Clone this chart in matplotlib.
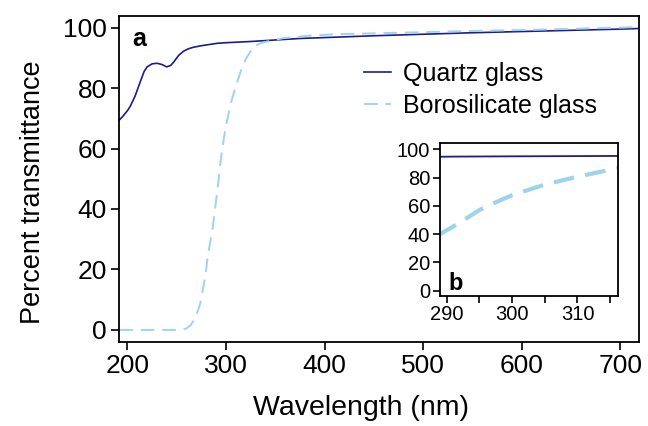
import matplotlib
matplotlib.use("Agg")
import matplotlib.pyplot as plt

plt.rcParams['font.family'] = ['Liberation Sans', 'DejaVu Sans']

# Quartz glass transmittance
quartz_wl = [192, 195, 200, 203, 208, 213, 217, 220, 225, 230, 235, 240, 244, 247, 252, 257,
             262, 267, 275, 285, 291, 300, 325, 350, 375, 400, 425, 450, 500, 550, 600, 650, 700, 719]
quartz_t = [69.5, 70.5, 72.5, 74.0, 77.5, 82.0, 85.5, 87.0, 88.0, 88.2, 87.8, 87.0, 87.5, 88.6, 90.8, 92.2,
            93.0, 93.5, 94.0, 94.5, 94.8, 95.0, 95.4, 95.9, 96.4, 96.7, 97.0, 97.3, 97.8, 98.3, 98.7, 99.1, 99.5, 99.7]

# Borosilicate glass transmittance
boro_wl = [192, 230, 255, 260, 264, 267, 270, 274, 279, 282, 286, 289, 292, 295, 298, 300, 305,
           310, 316, 320, 328, 335, 342, 358, 380, 409, 450, 500, 550, 600, 650, 700, 719]
boro_t = [0, 0, 0, 0.5, 1.5, 3.0, 4.8, 8.8, 17.6, 25.4, 32.5, 40.0, 48.0, 57.0, 63.5, 67.5, 75.0,
          80.6, 86.5, 89.5, 93.8, 94.8, 95.4, 96.5, 97.2, 97.8, 98.1, 98.5, 98.9, 99.2, 99.6, 100.0, 100.2]

quartz_color = '#1c1c8e'
boro_color = '#9fd3ec'

fig = plt.figure(figsize=(6.48, 4.26), dpi=100)
ax = fig.add_axes([0.1844, 0.1979, 0.8016, 0.7657])
ax.plot(quartz_wl, quartz_t, color=quartz_color, lw=1.2, label='Quartz glass')
ax.plot(boro_wl, boro_t, color=boro_color, lw=1.4, dashes=(7, 4), label='Borosilicate glass')
ax.set_xlim(192, 719)
ax.set_ylim(-3.9, 104)
ax.set_xticks([200, 300, 400, 500, 600, 700])
ax.set_yticks([0, 20, 40, 60, 80, 100])
ax.tick_params(labelsize=19, length=6, width=1.2, direction='out', pad=3)
for s in ax.spines.values():
    s.set_linewidth(1.3)
ax.set_xlabel('Wavelength (nm)', fontsize=20.5, labelpad=12, x=0.465)
ax.set_ylabel('Percent transmittance', fontsize=19.5, labelpad=12, y=0.459)
ax.text(0.025, 0.965, 'a', transform=ax.transAxes, fontsize=18, fontweight='bold', va='top', ha='left')
leg = ax.legend(loc='upper left', bbox_to_anchor=(0.452, 0.888), frameon=False, fontsize=18,
                handlelength=1.05, handletextpad=0.5, labelspacing=0.3, borderaxespad=0)

ins = fig.add_axes([0.679, 0.3059, 0.2748, 0.3577])
ins.plot(quartz_wl, quartz_t, color=quartz_color, lw=1.3)
ins.plot(boro_wl, boro_t, color=boro_color, lw=3.0, dashes=(5, 2.7))
ins.set_xlim(289, 316.2)
ins.set_ylim(-3.5, 104.2)
ins.set_xticks([290, 295, 300, 305, 310, 315])
ins.set_xticklabels(['290', '', '300', '', '310', ''])
ins.set_yticks([0, 20, 40, 60, 80, 100])
ins.tick_params(labelsize=14.5, length=5, width=1.2, direction='out', pad=2)
for s in ins.spines.values():
    s.set_linewidth(1.3)
ins.text(0.05, 0.005, 'b', transform=ins.transAxes, fontsize=17, fontweight='bold', va='bottom', ha='left')

fig.savefig('out.png', dpi=100)
